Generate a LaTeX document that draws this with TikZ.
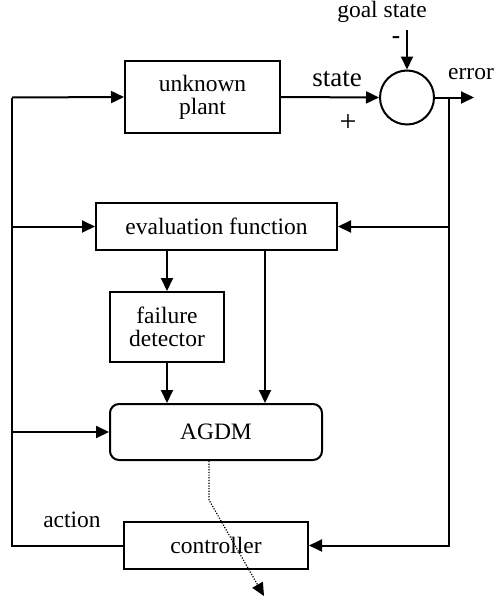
\documentclass[tikz,border=0pt]{standalone}
\usepackage{fontspec}
\setmainfont{Liberation Serif}
\usetikzlibrary{arrows.meta}
\begin{document}
\begin{tikzpicture}[x=1pt,y=-1pt,
  font=\fontsize{23.5}{25}\selectfont,
  line width=2pt,
  arr/.style={-{Triangle[length=13pt,width=12pt]}},
  blk/.style={draw, rectangle, inner sep=0pt, align=center},
  lbl/.style={inner sep=0pt, anchor=center}]
\useasboundingbox (0,0) rectangle (496,605);

% blocks
\node[blk, minimum width=155pt, minimum height=72pt] (plant) at (202.5,97) {unknown\\[-2pt]plant};
\node[draw, circle, inner sep=0pt, minimum size=54pt] (sum) at (407,97.5) {};
\node[blk, minimum width=241pt, minimum height=47pt] (eval) at (216.5,226.5) {evaluation function};
\node[blk, minimum width=114pt, minimum height=70pt] (fail) at (167,327) {failure\\[-2pt]detector};
\node[blk, rounded corners=9pt, minimum width=212pt, minimum height=56pt] (agdm) at (216,432) {AGDM};
\node[blk, minimum width=184pt, minimum height=47pt] (ctrl) at (216,545.5) {controller};

% labels
\node[lbl] (goal) at (382,12) {goal state};
\node[lbl, font=\bfseries\fontsize{25}{27}\selectfont] (minus) at (396,40) {-};
\node[lbl, font=\fontsize{27}{29}\selectfont] (statel) at (337,79) {state};
\node[lbl, font=\fontsize{30}{32}\selectfont] (plus) at (348,123) {+};
\node[lbl] (errl) at (471,74) {error};
\node[lbl] (actl) at (72,520) {action};

% bus points
\coordinate (lt) at (12,97.5);
\coordinate (rt) at (449,97.5);
\coordinate (out) at (474,97.5);
\coordinate (gtop) at (407,30);
\coordinate (ex) at (265,250);
\coordinate (d1) at (209,500);
\coordinate (dend) at (264,596);

% main loop
\draw[arr] (plant.east) -- (sum.west);
\draw[arr] (gtop) -- (sum.north);
\draw[arr] (sum.east) -- (out);
\draw[arr] (rt) |- (ctrl.east);
\draw[arr] (rt |- eval.east) -- (eval.east);
\draw (ctrl.west) -| (lt);
\draw[arr] (lt) -- (plant.west);
\draw[arr] (lt |- eval.west) -- (eval.west);
\draw[arr] (lt |- agdm.west) -- (agdm.west);

% inner connections
\draw[arr] (eval.south -| fail.north) -- (fail.north);
\draw[arr] (fail.south) -- (agdm.north -| fail.south);
\draw[arr] (eval.south -| ex) -- (agdm.north -| ex);

% dotted output of AGDM
\draw[arr, line width=1.2pt, dash pattern=on 1.2pt off 1.5pt] (agdm.south -| d1) -- (d1) -- (dend);
\end{tikzpicture}
\end{document}
